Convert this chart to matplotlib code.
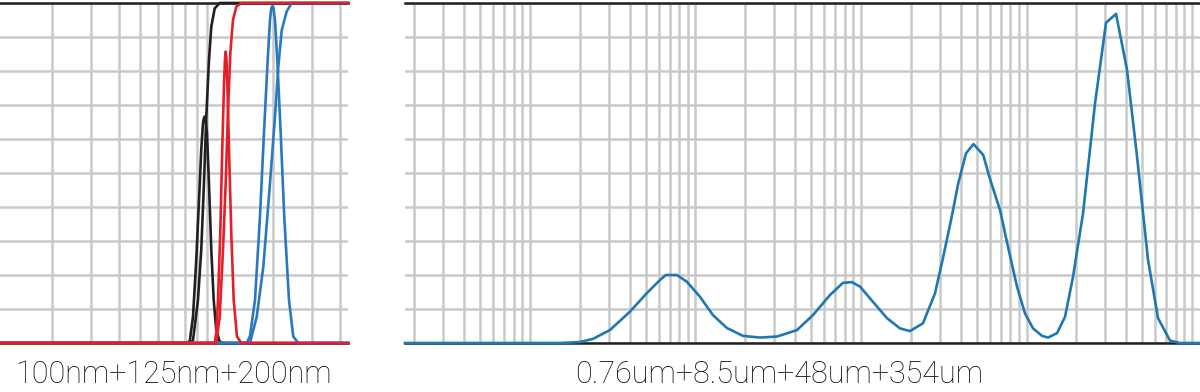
import matplotlib
matplotlib.use("Agg")
import matplotlib.pyplot as plt
from matplotlib.ticker import LogLocator, NullFormatter

# left panel: 100nm / 125nm / 200nm (size in nm, value in %)
black_freq_x = [11.61, 81.2, 83.8, 86.7, 89.7, 92.3, 94.5, 96.2, 97.2, 97.9, 98.8, 100.3, 102.4, 104.9, 107.6, 110.5, 114.5, 118.5, 435.9]
black_freq_y = [0, 0, 0.5, 7.7, 24.4, 42, 56.8, 64.6, 66.2, 66.6, 66.0, 61.7, 47, 27.4, 12.6, 3.8, 0.4, 0, 0]
black_cum_x = [11.61, 84.5, 86.7, 91.3, 94.5, 97.2, 99.6, 102.4, 104.9, 108.7, 114.5, 435.9]
black_cum_y = [0, 0, 0.8, 12.6, 27.4, 47, 66.6, 83.2, 93, 98.4, 100, 100]

red_freq_x = [11.61, 108.7, 110.5, 112.5, 115.2, 117.6, 119.8, 121.0, 121.9, 122.9, 124.0, 126.2, 129.2, 132.5, 137.1, 143.4, 435.9]
red_freq_y = [0, 0, 3, 12.6, 32.3, 56.8, 76.4, 83.5, 85.7, 83.5, 76.4, 56.8, 32.3, 12.6, 1.9, 0, 0]
red_cum_x = [11.61, 110.5, 114.5, 118.5, 121.9, 124.9, 127.9, 131.5, 136.1, 143.4, 435.9]
red_cum_y = [0, 0, 7.7, 27.4, 47, 68.5, 85.2, 95, 98.9, 100, 100]

blue_freq_x = [11.61, 151.7, 157.0, 165.4, 174.2, 181.6, 188.8, 193.4, 196.0, 198.1, 200.6, 203.7, 208.7, 216.2, 224.4, 235.7, 246.5, 259.7, 435.9]
blue_freq_y = [0, 0, 2, 12.6, 37.1, 61.7, 83.2, 95, 98.5, 99.1, 98.5, 95, 83.2, 61.7, 37.1, 12.6, 1.9, 0, 0]
blue_cum_x = [11.61, 157.0, 168.4, 180.4, 193.4, 203.7, 210.9, 218.5, 230.1, 242.4, 435.9]
blue_cum_y = [0, 0, 7.7, 22.4, 47, 66.6, 81.3, 92, 97.5, 100, 100]

# right panel: 0.76um / 8.5um / 48um / 354um (size in um, value in %)
multi_x = [0.0176, 0.152, 0.2005, 0.2403, 0.3043, 0.4019, 0.5092, 0.6101, 0.6635, 0.773,
           0.8884, 1.065, 1.276, 1.55, 1.936, 2.454, 3.108, 4.105, 5.129, 6.495,
           7.785, 8.824, 9.862, 11.82, 14.36, 17.2, 19.78, 23.69, 28.0, 31.43,
           35.32, 38.72, 43.1, 47.84, 54.8, 59.6, 69.18, 77.3, 87.6, 97.9,
           109.5, 124.1, 134.9, 152.9, 170.9, 191.0, 219.5, 259.4, 302.3, 347.4,
           404.9, 465.4, 542.2, 623.3, 736.3, 846.4, 1117]
multi_y = [0, 0, 0.3, 1.2, 3.8, 9.2, 14.7, 18.5, 20, 20,
           18, 13.6, 8.2, 4.4, 2.1, 1.6, 1.9, 3.8, 8.2, 14.1,
           17.7, 17.9, 16.6, 12.1, 7.3, 4.3, 3.5, 5.8, 14.6, 25.4,
           37.1, 47, 55.8, 58.5, 55.3, 48.9, 39.1, 28.3, 16.6, 8.7,
           4.3, 2.1, 1.6, 2.9, 7.7, 19.5, 38.1, 70.5, 94.2, 96.8,
           80.3, 54.8, 24.4, 7.3, 0.7, 0, 0]

left_label = "100nm+125nm+200nm"
right_label = "0.76um+8.5um+48um+354um"

grid_col = "#c9c9c9"
spine_col = "#231f20"

fig = plt.figure(figsize=(12, 3.92), dpi=100)
ax1 = fig.add_axes([0, 49 / 392, 348 / 1200, 340 / 392])
ax2 = fig.add_axes([405 / 1200, 49 / 392, 795 / 1200, 340 / 392])


def style_axis(ax, xlim):
    ax.set_xscale("log")
    ax.set_xlim(*xlim)
    ax.set_ylim(0, 100)
    ax.set_yticks(range(0, 101, 10))
    ax.xaxis.set_major_locator(LogLocator(base=10, numticks=20))
    ax.xaxis.set_minor_locator(LogLocator(base=10, subs=range(2, 10), numticks=100))
    ax.xaxis.set_minor_formatter(NullFormatter())
    ax.grid(True, which="both", axis="x", color=grid_col, lw=1.8)
    ax.grid(True, which="major", axis="y", color=grid_col, lw=1.8)
    ax.set_axisbelow(True)
    ax.tick_params(which="both", length=0, labelbottom=False, labelleft=False)
    for s in ["left", "right"]:
        ax.spines[s].set_visible(False)
    for s in ["top", "bottom"]:
        ax.spines[s].set_color(spine_col)
        ax.spines[s].set_linewidth(1.8)


style_axis(ax1, (11.61, 435.9))
style_axis(ax2, (0.0176, 1117))

lw = 1.9
ax1.plot(black_freq_x, black_freq_y, color="#231f20", lw=lw, zorder=3, clip_on=False)
ax1.plot(black_cum_x, black_cum_y, color="#231f20", lw=lw, zorder=3, clip_on=False)
ax1.plot(blue_freq_x, blue_freq_y, color="#2a78bd", lw=lw, zorder=3.1, clip_on=False)
ax1.plot(blue_cum_x, blue_cum_y, color="#2a78bd", lw=lw, zorder=3.1, clip_on=False)
ax1.plot(red_freq_x, red_freq_y, color="#e3202a", lw=lw, zorder=3.2, clip_on=False)
ax1.plot(red_cum_x, red_cum_y, color="#e3202a", lw=lw, zorder=3.2, clip_on=False)

ax2.plot(multi_x, multi_y, color="#1f78b0", lw=1.9, zorder=3, clip_on=False)

fig.text(174 / 1200, 0.045, left_label, ha="center", va="center",
         fontsize=22, family="Roboto", fontweight="light", color="#0d0d0d")
fig.text(779 / 1200, 0.045, right_label, ha="center", va="center",
         fontsize=22, family="Roboto", fontweight="light", color="#0d0d0d")

fig.savefig("out.png", dpi=100)
